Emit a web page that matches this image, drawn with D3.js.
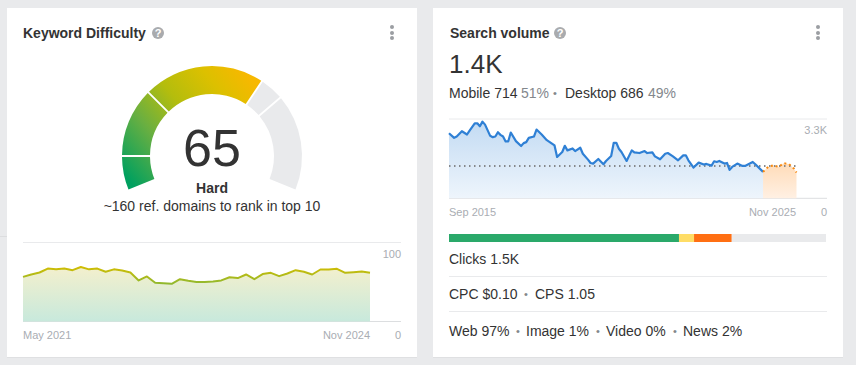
<!DOCTYPE html>
<html>
<head>
<meta charset="utf-8">
<script src="https://cdn.jsdelivr.net/npm/d3@7"></script>
<style>
  body { margin: 0; background: #e9eaec; overflow: hidden; }
  svg { display: block; font-family: "Liberation Sans", Arial, sans-serif; }
</style>
</head>
<body>
<div id="container"></div>
<script>
//step1: data
let difficultyScore = 65;
let gaugeBreaks = [0, 10, 30, 65, 72, 100];

let difficultyHistory = [56.5,59.5,62,67,66,67,65,69,66,67,63,66,64.5,62,52,57,49,48.5,47.7,53.6,51.5,50,50,50.6,52,56,55,59.5,53.6,60,61.6,57.4,60.8,65,62.9,59.5,65.8,65.8,66.7,61.6,62.4,63.3,61.6];

// months counted from Sep 2015
let volumeMonths = [0,2,3,5,7,8,10,11,12,13,14,16,17,18,19,20,21,22,23,24,26,28,29,30,31,33,34,36,38,39,41,42,44,45,46,48,49,51,52,54,55,56,58,60,61,63,64,65,66,67,69,71,72,74,76,77,79,80,82,84,85,87,89,91,92,93,95,97,99,100,102,103,104,105,107,108,109,110,112,114,115,118,119,122];
let volumeValues = [2709,2516,2571,2791,2654,2819,3121,3121,2998,3190,3066,2599,2544,2571,2750,2640,2571,2365,2365,2736,2379,2173,2296,2338,2516,2571,2860,2654,2420,2351,2200,1719,1925,2186,1994,2076,1966,2104,1856,1609,1471,1444,1636,1416,1554,1760,2310,2310,2063,1925,1554,1994,1911,1884,1966,1884,1911,1746,1623,1856,1884,1746,1581,1788,1788,1581,1279,1485,1403,1430,1361,1540,1513,1554,1444,1471,1183,1306,1444,1348,1348,1513,1416,1100];
let forecastMonths = [122,124,126,128,130,132,134,135];
let forecastValues = [1100,1306,1375,1306,1458,1430,1238,1073];
let volumeAverage = 1340;

let clickShares = [61, 4, 10, 25];
let clickColors = ["#2aa96a", "#ffdd66", "#ff6f13", "#e9eaec"];

//step2: settings
let w = 856;
let h = 365;
let textColor = "#333";
let mutedColor = "#a9adb3";
let percentColor = "#83878c";
let lineColor = "#e9eaec";

let viz = d3.select("#container")
  .append("svg")
    .attr("width", w)
    .attr("height", h)
;
let defs = viz.append("defs");

function addGradient(id, x1, y1, x2, y2, stops){
  let g = defs.append("linearGradient")
    .attr("id", id)
    .attr("gradientUnits", "userSpaceOnUse")
    .attr("x1", x1).attr("y1", y1).attr("x2", x2).attr("y2", y2);
  stops.forEach(function(s){
    g.append("stop").attr("offset", s[0]).attr("stop-color", s[1]);
  });
}

function addText(x, y, str, size, color, anchor, weight){
  return viz.append("text")
    .attr("x", x)
    .attr("y", y)
    .attr("font-size", size)
    .attr("fill", color)
    .attr("text-anchor", anchor || "start")
    .attr("font-weight", weight || "normal")
    .text(str);
}

function bullet(x, y){
  addText(x, y, "•", 11, percentColor, "middle");
}

//step3: cards
viz.append("rect").attr("x", 0).attr("y", 236).attr("width", 7).attr("height", 1).attr("fill", "#dcdddf");
[[7, 410], [433, 410]].forEach(function(c){
  viz.append("rect").attr("x", c[0]).attr("y", 8).attr("width", c[1]).attr("height", 350).attr("fill", "#dfe0e2");
  viz.append("rect").attr("x", c[0]).attr("y", 8).attr("width", c[1]).attr("height", 349).attr("fill", "white");
});

function helpIcon(cx, cy){
  viz.append("circle").attr("cx", cx).attr("cy", cy).attr("r", 6).attr("fill", "#a9abae");
  addText(cx, cy + 4, "?", 11, "white", "middle", "bold");
}
function menuDots(cx){
  [27, 33, 38].forEach(function(cy){
    viz.append("circle").attr("cx", cx).attr("cy", cy).attr("r", 2).attr("fill", "#9b9ea2");
  });
}

addText(23, 38, "Keyword Difficulty", 14, textColor, "start", "bold");
helpIcon(158, 33);
menuDots(392);
addText(450, 38, "Search volume", 14, textColor, "start", "bold");
helpIcon(560, 33);
menuDots(818);

//step4: gauge
let gaugeCx = 212;
let gaugeCy = 156;
let gaugeAngle = d3.scaleLinear().domain([0, 100]).range([-112.5 * Math.PI / 180, 112.5 * Math.PI / 180]);
let gaugeArc = d3.arc().innerRadius(62).outerRadius(90).padAngle(0.024).padRadius(76);

// gradient coordinates are relative to the gauge group
addGradient("gaugeFill", 135 - gaugeCx, 188 - gaugeCy, 258 - gaugeCx, 88 - gaugeCy, [
  [0, "#00a05f"],
  [0.3, "#69af41"],
  [0.55, "#b4bd0d"],
  [0.8, "#dcc000"],
  [1, "#f7b800"]
]);

let gaugeGroup = viz.append("g").attr("transform", "translate(" + gaugeCx + "," + gaugeCy + ")");
gaugeGroup.selectAll("path")
  .data(d3.pairs(gaugeBreaks))
  .enter()
  .append("path")
    .attr("d", function(d){
      return gaugeArc({startAngle: gaugeAngle(d[0]), endAngle: gaugeAngle(d[1])});
    })
    .attr("fill", function(d){
      return d[1] <= difficultyScore ? "url(#gaugeFill)" : "#e9eaec";
    })
;

addText(gaugeCx, 166, difficultyScore, 52, textColor, "middle");
addText(gaugeCx, 193, "Hard", 14, textColor, "middle", "bold");
addText(gaugeCx, 211, "~160 ref. domains to rank in top 10", 14, textColor, "middle");

//step5: difficulty history
let kdX = d3.scaleLinear().domain([0, difficultyHistory.length - 1]).range([23, 370]);
let kdY = d3.scaleLinear().domain([0, 100]).range([321.5, 242.5]);

addGradient("kdArea", 0, 264, 0, 321, [[0, "#f6f0cc"], [1, "#c8e9dc"]]);
addGradient("kdLine", 0, 266, 0, 285, [[0, "#d4bd00"], [1, "#8cb832"]]);

viz.append("line").attr("x1", 23).attr("x2", 401).attr("y1", kdY(100)).attr("y2", kdY(100)).attr("stroke", lineColor);
viz.append("line").attr("x1", 23).attr("x2", 401).attr("y1", kdY(0)).attr("y2", kdY(0)).attr("stroke", "#dcdee0");

viz.append("path")
  .datum(difficultyHistory)
  .attr("d", d3.area().x(function(d, i){return kdX(i)}).y0(kdY(0)).y1(function(d){return kdY(d)}))
  .attr("fill", "url(#kdArea)");
viz.append("path")
  .datum(difficultyHistory)
  .attr("d", d3.line().x(function(d, i){return kdX(i)}).y(function(d){return kdY(d)}))
  .attr("fill", "none")
  .attr("stroke", "url(#kdLine)")
  .attr("stroke-width", 2)
  .attr("stroke-linejoin", "round");

addText(401, 258, "100", 11, mutedColor, "end");
addText(23, 339, "May 2021", 11, mutedColor);
addText(370, 339, "Nov 2024", 11, mutedColor, "end");
addText(401, 339, "0", 11, mutedColor, "end");

//step6: search volume
addText(449, 73, "1.4K", 26, textColor);

addText(449, 98, "Mobile 714", 14, textColor);
addText(521, 98, "51%", 14, percentColor);
bullet(555, 97);
addText(565, 98, "Desktop 686", 14, textColor);
addText(648, 98, "49%", 14, percentColor);

let volX = d3.scaleLinear().domain([0, 135]).range([449, 796.5]);
let volY = d3.scaleLinear().domain([0, 3300]).range([198.3, 119]);

addGradient("volArea", 0, 122, 0, 198, [[0, "#c3dbf3"], [1, "#eef5fc"]]);
addGradient("fcArea", 0, 164, 0, 198, [[0, "#ffdcb9"], [1, "#fff0e3"]]);

viz.append("line").attr("x1", 449).attr("x2", 827).attr("y1", volY(3300)).attr("y2", volY(3300)).attr("stroke", lineColor);
viz.append("line").attr("x1", 449).attr("x2", 827).attr("y1", volY(0)).attr("y2", volY(0)).attr("stroke", "#dcdee0");

let volArea = d3.area().x(function(d){return volX(d[0])}).y0(volY(0)).y1(function(d){return volY(d[1])});
let volLine = d3.line().x(function(d){return volX(d[0])}).y(function(d){return volY(d[1])});
let volPoints = d3.zip(volumeMonths, volumeValues);
let fcPoints = d3.zip(forecastMonths, forecastValues);

viz.append("path").datum(volPoints).attr("d", volArea).attr("fill", "url(#volArea)");
viz.append("path").datum(fcPoints).attr("d", volArea).attr("fill", "url(#fcArea)");

viz.append("line")
  .attr("x1", volX(0)).attr("x2", volX(135))
  .attr("y1", volY(volumeAverage)).attr("y2", volY(volumeAverage))
  .attr("stroke", "#85888c").attr("stroke-width", 2).attr("stroke-dasharray", "1.5,3.5");

viz.append("path").datum(volPoints).attr("d", volLine)
  .attr("fill", "none").attr("stroke", "#2f80d5").attr("stroke-width", 2.2).attr("stroke-linejoin", "round");
viz.append("path").datum(fcPoints).attr("d", volLine)
  .attr("fill", "none").attr("stroke", "#f7890f").attr("stroke-width", 2).attr("stroke-dasharray", "2,3");

addText(827, 134, "3.3K", 11, mutedColor, "end");
addText(449, 216, "Sep 2015", 11, mutedColor);
addText(796, 216, "Nov 2025", 11, mutedColor, "end");
addText(827, 216, "0", 11, mutedColor, "end");

//step7: clicks bar
let barX = d3.scaleLinear().domain([0, d3.sum(clickShares)]).range([449, 826]);
let barStarts = d3.cumsum([0].concat(clickShares));
viz.selectAll(".clickBar")
  .data(clickShares)
  .enter()
  .append("rect")
    .classed("clickBar", true)
    .attr("x", function(d, i){return barX(barStarts[i])})
    .attr("y", 234)
    .attr("width", function(d){return barX(d) - barX(0)})
    .attr("height", 8)
    .attr("fill", function(d, i){return clickColors[i]})
;

addText(449, 264, "Clicks 1.5K", 14, textColor);
viz.append("line").attr("x1", 449).attr("x2", 827).attr("y1", 276.5).attr("y2", 276.5).attr("stroke", lineColor);

addText(449, 299, "CPC $0.10", 14, textColor);
bullet(526, 298);
addText(535, 299, "CPS 1.05", 14, textColor);
viz.append("line").attr("x1", 449).attr("x2", 827).attr("y1", 311.5).attr("y2", 311.5).attr("stroke", lineColor);

addText(449, 336, "Web 97%", 14, textColor);
bullet(518, 335);
addText(526, 336, "Image 1%", 14, textColor);
bullet(598, 335);
addText(606, 336, "Video 0%", 14, textColor);
bullet(675, 335);
addText(683, 336, "News 2%", 14, textColor);
</script>
</body>
</html>
